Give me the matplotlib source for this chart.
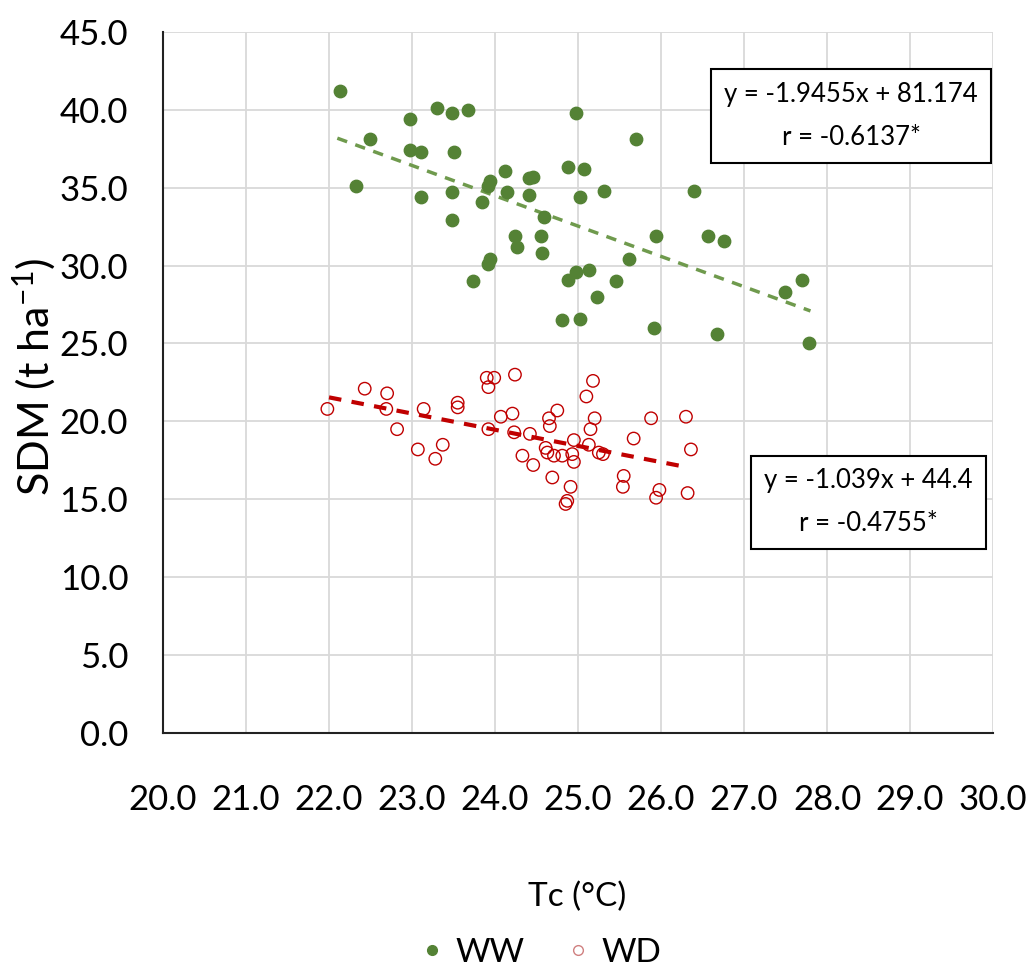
import numpy as np
import matplotlib
matplotlib.use("Agg")
import matplotlib.pyplot as plt
from matplotlib.lines import Line2D

# WW (well watered) - filled green dots
ww_tc = [22.13, 22.49, 22.32, 22.98, 22.98, 23.11, 23.11, 23.30, 23.48, 23.67,
         23.50, 23.48, 23.48, 23.84, 23.94, 23.91, 24.12, 24.15, 24.41, 24.46,
         24.41, 24.59, 24.24, 24.26, 24.55, 24.56, 23.94, 23.92, 23.73,
         24.97, 25.70, 24.88, 25.07, 25.02, 25.31, 26.40, 25.94, 26.57, 26.76,
         25.61, 24.97, 24.88, 25.13, 25.46, 25.23, 24.81, 25.02, 25.91, 26.67,
         27.49, 27.70, 27.78]
ww_sdm = [41.2, 38.1, 35.1, 39.4, 37.4, 37.3, 34.4, 40.1, 39.8, 40.0,
          37.3, 34.7, 32.9, 34.1, 35.4, 35.1, 36.1, 34.7, 35.6, 35.7,
          34.5, 33.1, 31.9, 31.2, 31.9, 30.8, 30.4, 30.1, 29.0,
          39.8, 38.1, 36.3, 36.2, 34.4, 34.8, 34.8, 31.9, 31.9, 31.6,
          30.4, 29.6, 29.1, 29.7, 29.0, 28.0, 26.5, 26.6, 26.0, 25.6,
          28.3, 29.1, 25.0]

# WD (water deficit) - open red circles
wd_tc = [21.98, 22.43, 22.70, 22.69, 22.82, 23.14, 23.07, 23.28, 23.37, 23.55,
         23.55, 23.90, 23.99, 23.92, 24.24, 23.92, 24.07, 24.21, 24.23, 24.42,
         24.33, 24.46, 25.18, 25.10, 24.75, 24.65, 24.66, 25.20, 25.15, 24.95,
         24.61, 24.63, 24.71, 24.81, 24.93, 24.95, 25.13, 25.25, 25.30, 24.69,
         24.91, 24.85, 24.87, 25.67, 25.88, 26.30, 26.36, 25.55, 25.54, 25.98,
         25.94, 26.32]
wd_sdm = [20.8, 22.1, 21.8, 20.8, 19.5, 20.8, 18.2, 17.6, 18.5, 21.2,
          20.9, 22.8, 22.8, 22.2, 23.0, 19.5, 20.3, 20.5, 19.3, 19.2,
          17.8, 17.2, 22.6, 21.6, 20.7, 20.2, 19.7, 20.2, 19.5, 18.8,
          18.3, 18.0, 17.8, 17.8, 17.9, 17.4, 18.5, 18.0, 17.9, 16.4,
          15.8, 14.7, 14.9, 18.9, 20.2, 20.3, 18.2, 16.5, 15.8, 15.6,
          15.1, 15.4]

# fitted lines as printed in the chart
ww_fit = (-1.9455, 81.174)
wd_fit = (-1.039, 44.4)
ww_fit_range = (22.1, 27.8)
wd_fit_range = (22.0, 26.3)

x_ticks = np.arange(20, 30.5, 1.0)
y_ticks = np.arange(0, 45.5, 5.0)

font = ['Lato', 'DejaVu Sans']
plt.rcParams['font.family'] = font
plt.rcParams['mathtext.default'] = 'regular'

green = '#548235'
red = '#c00000'

fig = plt.figure(figsize=(10.35, 9.67), dpi=100)
ax = fig.add_axes([0.1575, 0.242, 0.802, 0.725])

ax.scatter(ww_tc, ww_sdm, s=80, color=green, edgecolors=green, zorder=3)
ax.scatter(wd_tc, wd_sdm, s=80, facecolors='none', edgecolors=red, linewidths=1.0, zorder=3)

xs = np.array(ww_fit_range)
ax.plot(xs, ww_fit[0] * xs + ww_fit[1], color='#6f9a4d', lw=2.5, ls=(0, (3, 2.5)), zorder=2)
xs = np.array(wd_fit_range)
ax.plot(xs, wd_fit[0] * xs + wd_fit[1], color=red, lw=3, ls=(0, (3, 2.5)), zorder=2)

ax.set_xlim(20, 30)
ax.set_ylim(0, 45)
ax.set_xticks(x_ticks)
ax.set_yticks(y_ticks)
ax.set_xticklabels([f'{v:.1f}' for v in x_ticks], fontsize=25)
ax.set_yticklabels([f'{v:.1f}' for v in y_ticks], fontsize=25)
ax.tick_params(axis='x', length=0, pad=37)
ax.tick_params(axis='y', length=0, pad=25)
ax.grid(True, color='#d9d9d9', lw=1.3)
ax.set_axisbelow(True)
for s in ['top', 'right']:
    ax.spines[s].set_visible(False)
for s in ['left', 'bottom']:
    ax.spines[s].set_color('#222222')
    ax.spines[s].set_linewidth(1.5)

fig.text(34 / 1035, 1 - 377 / 967, 'SDM (t ha$^{-1}$)', fontsize=31, rotation=90,
         ha='center', va='center')
fig.text(577 / 1035, 1 - 897 / 967, 'Tc (°C)', fontsize=24, ha='center', va='center')

box = dict(boxstyle='square,pad=0.5', fc='white', ec='black', lw=1.5)
ax.text(28.29, 39.6, 'y = -1.9455x + 81.174\nr = -0.6137*', fontsize=18.5,
        ha='center', va='center', linespacing=1.9, bbox=box, zorder=5)
ax.text(28.5, 14.8, 'y = -1.039x + 44.4\nr = -0.4755*', fontsize=18.5,
        ha='center', va='center', linespacing=1.9, bbox=box, zorder=5)

handles = [Line2D([], [], marker='o', ls='none', color=green, markersize=7),
           Line2D([], [], marker='o', ls='none', markerfacecolor='none',
                  markeredgecolor='#d08080', markersize=7)]
fig.legend(handles, ['WW', 'WD'], loc='center', bbox_to_anchor=(540 / 1035, 1 - 953 / 967),
           ncol=2, frameon=False, fontsize=24,
           handletextpad=0.3, columnspacing=1.2, handlelength=0.8)

fig.savefig('out.png', dpi=100)
